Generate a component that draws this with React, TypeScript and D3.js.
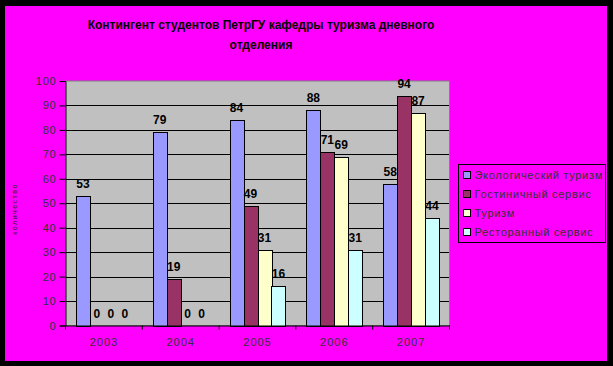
import React, { useEffect, useRef } from "react";
import * as d3 from "d3";

const years = ["2003", "2004", "2005", "2006", "2007"];
const seriesNames = [
  "Экологический туризм",
  "Гостиничный сервис",
  "Туризм",
  "Ресторанный сервис",
];
const eco = [53, 79, 84, 88, 58];
const hotel = [0, 19, 49, 71, 94];
const tourism = [0, 0, 31, 69, 87];
const restaurant = [0, 0, 16, 31, 44];
const seriesColors = ["#9999FF", "#993366", "#FFFFCC", "#CCFFFF"];
const yTicks = [0, 10, 20, 30, 40, 50, 60, 70, 80, 90, 100];

const App: React.FC = () => {
  const svgRef = useRef<SVGSVGElement | null>(null);

  useEffect(() => {
    const width = 613;
    const height = 366;
    const svg = d3.select(svgRef.current);
    svg.selectAll("*").remove();
    svg.attr("width", width).attr("height", height);

    const font = "Arial, 'Liberation Sans', sans-serif";

    // background frame
    svg.append("rect").attr("width", width).attr("height", height).attr("fill", "#000");
    svg.append("rect")
      .attr("x", 5).attr("y", 6)
      .attr("width", 602).attr("height", 355)
      .attr("fill", "#FF00FF");

    // title
    const title = svg.append("text")
      .attr("text-anchor", "middle")
      .style("font-family", font)
      .style("font-size", "12px")
      .style("font-weight", "bold")
      .attr("fill", "#000");
    title.append("tspan").attr("x", 261).attr("y", 29)
      .text("Контингент студентов ПетрГУ кафедры туризма дневного");
    title.append("tspan").attr("x", 261).attr("y", 49).text("отделения");

    const left = 65.5, right = 449.5, top = 81, bottom = 325.5;

    const x0 = d3.scaleBand().domain(years).range([left, right]);
    const x1 = d3.scaleBand<number>()
      .domain(d3.range(seriesNames.length))
      .range([0, x0.bandwidth()])
      .paddingInner(0)
      .paddingOuter(0.75);
    const y = d3.scaleLinear().domain([0, 100]).range([bottom, top]);

    // plot area
    svg.append("rect")
      .attr("x", left).attr("y", top)
      .attr("width", right - left).attr("height", bottom - top)
      .attr("fill", "#C0C0C0");

    // gridlines
    svg.append("g")
      .selectAll("line")
      .data(yTicks.filter(t => t > 0 && t < 100))
      .join("line")
      .attr("x1", left).attr("x2", right)
      .attr("y1", d => Math.round(y(d)) + 0.5)
      .attr("y2", d => Math.round(y(d)) + 0.5)
      .attr("stroke", "#000");

    svg.append("rect")
      .attr("x", left).attr("y", top)
      .attr("width", right - left).attr("height", bottom - top)
      .attr("fill", "none")
      .attr("stroke", "#808080");

    const allSeries = [eco, hotel, tourism, restaurant];
    const bars = years.flatMap((yr, i) =>
      allSeries.map((s, k) => ({ yr, k, v: s[i] }))
    );

    // bars
    svg.append("g")
      .selectAll("rect")
      .data(bars.filter(b => b.v > 0))
      .join("rect")
      .attr("x", b => Math.round(x0(b.yr)! + x1(b.k)!) + 0.5)
      .attr("y", b => Math.round(y(b.v)) + 0.5)
      .attr("width", Math.round(x1.bandwidth()))
      .attr("height", b => Math.round(bottom) - Math.round(y(b.v)))
      .attr("fill", b => seriesColors[b.k])
      .attr("stroke", "#000")
      .attr("stroke-width", 1);

    // data labels
    svg.append("g")
      .selectAll("text")
      .data(bars)
      .join("text")
      .attr("x", b => x0(b.yr)! + x1(b.k)! + x1.bandwidth() / 2)
      .attr("y", b => y(b.v) - 8)
      .attr("text-anchor", "middle")
      .style("font-family", font)
      .style("font-size", "12px")
      .style("font-weight", "bold")
      .attr("fill", "#000")
      .text(b => String(b.v));

    // y axis
    const yAxis = svg.append("g")
      .attr("transform", `translate(${left},0)`)
      .call(d3.axisLeft(y).tickValues(yTicks).tickSize(6).tickPadding(3));
    yAxis.select(".domain").attr("stroke", "#000");
    yAxis.selectAll("line").attr("stroke", "#000");
    yAxis.selectAll("text")
      .style("font-family", font)
      .style("font-size", "11px")
      .style("letter-spacing", "0.8px")
      .attr("fill", "#333");

    // x axis
    const xAxis = svg.append("g")
      .attr("transform", `translate(0,${bottom})`)
      .call(d3.axisBottom(x0).tickSize(0).tickPadding(13));
    xAxis.select(".domain").attr("stroke", "#000");
    xAxis.selectAll("text")
      .style("font-family", font)
      .style("font-size", "11px")
      .style("letter-spacing", "1px")
      .attr("fill", "#333");
    svg.append("g")
      .selectAll("line")
      .data([...years.map(d => x0(d)!), right])
      .join("line")
      .attr("x1", d => d).attr("x2", d => d)
      .attr("y1", bottom).attr("y2", bottom + 4)
      .attr("stroke", "#000");

    // y axis title
    svg.append("text")
      .attr("transform", "translate(17,209) rotate(-90)")
      .attr("text-anchor", "middle")
      .style("font-family", font)
      .style("font-size", "7px")
      .style("letter-spacing", "1.5px")
      .attr("fill", "#222")
      .text("количество");

    // legend
    const legend = svg.append("g");
    legend.append("rect")
      .attr("x", 458.5).attr("y", 164.5)
      .attr("width", 147).attr("height", 78)
      .attr("fill", "#FF00FF")
      .attr("stroke", "#000");
    const rows = legend.selectAll("g.row")
      .data(seriesNames)
      .join("g")
      .attr("class", "row")
      .attr("transform", (_, i) => `translate(463.5,${171.5 + i * 19})`);
    rows.append("rect")
      .attr("width", 7).attr("height", 7)
      .attr("fill", (_, i) => seriesColors[i])
      .attr("stroke", "#000");
    rows.append("text")
      .attr("x", 11).attr("y", 7.5)
      .style("font-family", font)
      .style("font-size", "11px")
      .style("letter-spacing", "0.7px")
      .attr("fill", "#333")
      .text(d => d);
  }, []);

  return (
    <svg
      ref={svgRef}
      style={{ position: "absolute", left: 0, top: 0, display: "block" }}
    ></svg>
  );
};

export default App;
